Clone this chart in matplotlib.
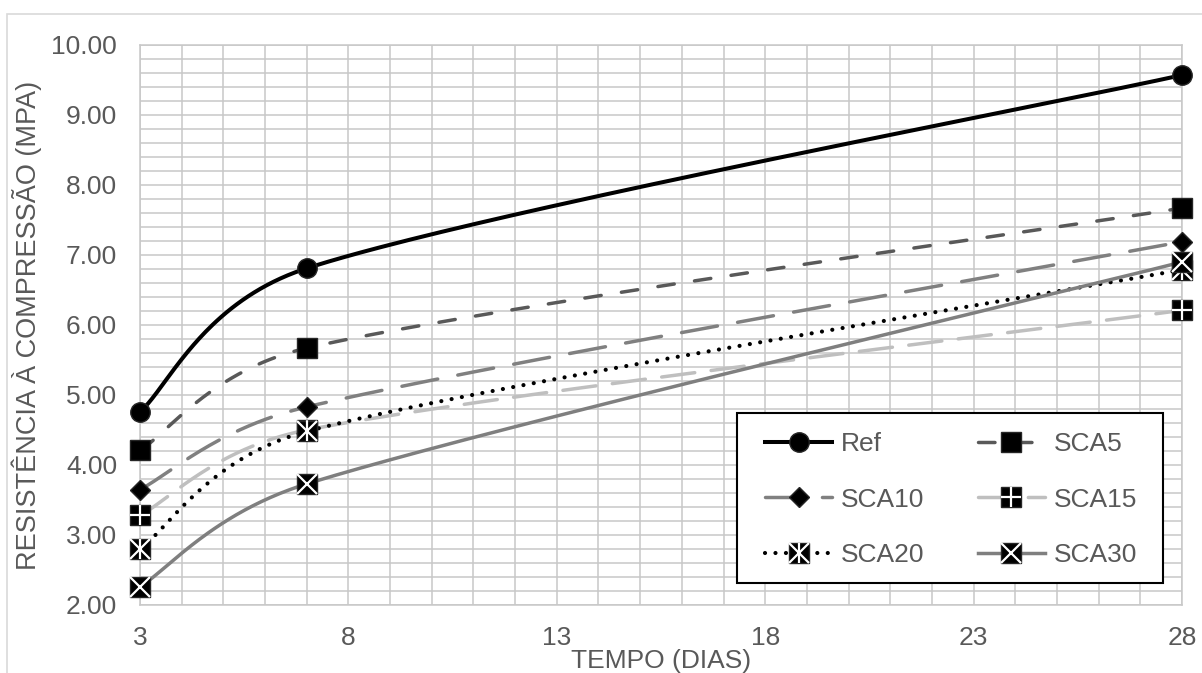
import matplotlib.pyplot as plt
import numpy as np
from matplotlib.patches import Rectangle
from matplotlib.ticker import FormatStrFormatter, MultipleLocator

# resistência à compressão (MPa) por idade de cura (dias)
dias = [3, 7, 28]
ref = [4.76, 6.81, 9.57]
sca5 = [4.21, 5.67, 7.67]
sca10 = [3.65, 4.83, 7.19]
sca15 = [3.28, 4.50, 6.21]
sca20 = [2.80, 4.48, 6.79]
sca30 = [2.26, 3.73, 6.90]
nomes = ["Ref", "SCA5", "SCA10", "SCA15", "SCA20", "SCA30"]
ticks_x = [3, 8, 13, 18, 23, 28]

plt.rcParams['font.family'] = ['Liberation Sans', 'DejaVu Sans']
cinza_txt = '#595959'
fs = 19

fig = plt.figure(figsize=(12.02, 6.73), dpi=100)
ax = fig.add_axes([140/1202, 68/673, 1042/1202, 560/673])
ax.set_xlim(3, 28)
ax.set_ylim(2, 10)


def suave(x, y, n=80):
    # curva suavizada tipo Excel (Bezier cúbica, tangentes limitadas)
    pts = ax.transData.transform(np.column_stack([x, y]))
    m = len(pts)
    out = [pts[0]]
    for i in range(m - 1):
        p0, p1 = pts[max(i - 1, 0)], pts[i]
        p2, p3 = pts[i + 1], pts[min(i + 2, m - 1)]
        d12 = np.linalg.norm(p2 - p1)
        t1, t2 = p2 - p0, p3 - p1
        c1 = p1 + t1 * min(1/6, d12 / 2 / np.linalg.norm(t1))
        c2 = p2 - t2 * min(1/6, d12 / 2 / np.linalg.norm(t2))
        t = np.linspace(0, 1, n)[1:, None]
        b = (1-t)**3*p1 + 3*(1-t)**2*t*c1 + 3*(1-t)*t**2*c2 + t**3*p2
        out.extend(b)
    xy = ax.transData.inverted().transform(np.array(out))
    return xy[:, 0], xy[:, 1]


def serie(y, cor, lw, ls, marker, ms, extras=()):
    xs, ys = suave(dias, y)
    ax.plot(xs, ys, color=cor, lw=lw, ls=ls, dash_capstyle='round',
            solid_capstyle='round', zorder=3)
    ax.plot(dias, y, ls='none', marker=marker, ms=ms, mfc='black',
            mec='#262626', mew=1, zorder=4, clip_on=False)
    # símbolo da legenda: linha com marcador
    h = plt.Line2D([], [], color=cor, lw=lw, ls=ls, dash_capstyle='round',
                   marker=marker, ms=ms, mfc='black', mec='#262626', mew=1)
    partes = [h]
    for mk in extras:
        ax.plot(dias, y, ls='none', marker=mk, ms=ms, mec='white', mew=1.6,
                zorder=4, clip_on=False)
        partes.append(plt.Line2D([], [], ls='none', marker=mk, ms=ms,
                                 mec='white', mew=1.6))
    return tuple(partes)


h_ref = serie(ref, 'black', 2.9, '-', 'o', 14)
h_5 = serie(sca5, '#595959', 2.5, (0, (4.75, 5.9)), 's', 14)
h_10 = serie(sca10, '#808080', 2.5, (0, (10.5, 5.9)), 'D', 10)
h_15 = serie(sca15, '#bfbfbf', 2.5, (0, (9.6, 4.75)), 's', 14, ['+'])
h_20 = serie(sca20, 'black', 3.0, (0, (0.01, 2.5)), 's', 14, ['x', '|'])
h_30 = serie(sca30, '#7f7f7f', 2.5, '-', 's', 14, ['x'])

# grade
ax.set_xticks(ticks_x)
ax.xaxis.set_minor_locator(MultipleLocator(1))
ax.yaxis.set_major_locator(MultipleLocator(1))
ax.yaxis.set_minor_locator(MultipleLocator(0.2))
ax.yaxis.set_major_formatter(FormatStrFormatter('%.2f'))
ax.grid(which='both', color='#c8c8c8', lw=1.1, zorder=0)
ax.set_axisbelow(True)
for s in ax.spines.values():
    s.set_color('#c8c8c8')
    s.set_linewidth(1.1)
ax.tick_params(which='both', length=0, labelsize=fs, colors=cinza_txt)
ax.tick_params(axis='x', pad=15)
ax.tick_params(axis='y', pad=16.5)

fig.text(661/1202, 1 - 668/673, 'TEMPO (DIAS)', ha='center', va='baseline',
         fontsize=fs, color=cinza_txt)
fig.text(27/1202, 1 - 325/673, 'RESISTÊNCIA À COMPRESSÃO (MPA)', rotation=90,
         ha='center', va='center', fontsize=19.5, color=cinza_txt)

# caixa da legenda
ax.add_patch(Rectangle((0.5729, 0.0393), 0.4088, 0.3036,
                       transform=ax.transAxes, facecolor='white',
                       edgecolor='black', lw=1.5, zorder=9, clip_on=False))

# legenda em duas colunas, preenchida por linhas
ordem = [0, 2, 4, 1, 3, 5]
hs = [h_ref, h_5, h_10, h_15, h_20, h_30]
leg = ax.legend([hs[i] for i in ordem], [nomes[i] for i in ordem], ncol=2,
                loc='upper left', bbox_to_anchor=(0.5998, 0.309),
                fontsize=fs, labelcolor=cinza_txt, handlelength=2.55,
                handletextpad=0.34, labelspacing=1.2, columnspacing=2.0,
                borderpad=0, borderaxespad=0, frameon=False)
leg.set_zorder(10)

# moldura da área do gráfico
fig.patches.append(Rectangle((7/1202, -0.1), 1.2, (673 - 14)/673 + 0.1,
                             transform=fig.transFigure, fill=False,
                             edgecolor='#d9d9d9', lw=1.2))

fig.savefig('out.png', dpi=100)
